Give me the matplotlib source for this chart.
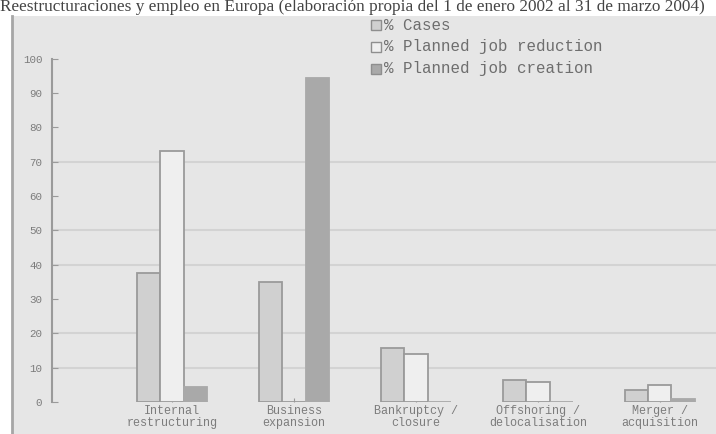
import matplotlib
matplotlib.use("Agg")
import matplotlib.pyplot as plt
from matplotlib.patches import Rectangle
import numpy as np

title = "Reestructuraciones y empleo en Europa (elaboración propia del 1 de enero 2002 al 31 de marzo 2004)"
categories = ["Internal\nrestructuring", "Business\nexpansion", "Bankruptcy /\nclosure",
              "Offshoring /\ndelocalisation", "Merger /\nacquisition"]
series_names = ["% Cases", "% Planned job reduction", "% Planned job creation"]
cases = [37.6, 35.0, 15.6, 6.4, 3.4]
job_reduction = [73.2, 0.0, 14.0, 5.7, 4.9]
job_creation = [4.3, 94.3, 0.0, 0.0, 0.9]
yticks = [0, 10, 20, 30, 40, 50, 60, 70, 80, 90, 100]
grid_levels = [10, 20, 40, 50, 70]

fills = ["#d0d0d0", "#efefef", "#a9a9a9"]
edges = ["#9a9a9a", "#9a9a9a", "#a9a9a9"]
text_col = "#7c7c7c"
mono = ["Liberation Mono", "DejaVu Sans Mono"]

W, H = 716, 434
fig = plt.figure(figsize=(W / 100, H / 100), dpi=100)
fig.patch.set_facecolor("white")

# gray panel with left border
fig.patches.append(Rectangle((12 / W, 0), 1 - 12 / W, 1 - 16 / H, transform=fig.transFigure,
                             facecolor="#e6e6e6", edgecolor="none", zorder=-10))
fig.add_artist(plt.Line2D([12 / W, 12 / W], [0, 1 - 16 / H], transform=fig.transFigure,
                          color="#a6a6a6", lw=2, zorder=1))

fig.text(0.0, 1 - 7 / H, title, family=["Liberation Serif", "DejaVu Serif"], fontsize=12.4,
         color="#444444", ha="left", va="center")

ax = fig.add_axes([52 / W, (H - 402) / H, (W - 52) / W, (402 - 58.7) / H])
ax.set_facecolor("none")
ax.set_zorder(2)
x = np.arange(len(categories))
w = 0.19
for vals, off, fc, ec in zip([cases, job_reduction, job_creation], [-w, 0, w], fills, edges):
    ax.bar(x + off, vals, width=w, color=fc, edgecolor=ec, linewidth=1.3, zorder=3)

for g in grid_levels:
    ax.axhline(g, color="#d3d3d3", lw=1.5, zorder=1)

ax.set_xlim(-0.984, 4.46)
ax.set_ylim(0, 100)
for s in ["top", "right", "bottom"]:
    ax.spines[s].set_visible(False)
ax.spines["left"].set_color("#9a9a9a")
ax.spines["left"].set_linewidth(1.5)
ax.set_yticks(yticks)
ax.set_yticklabels([str(v) for v in yticks])
ax.set_xticks(x)
ax.set_xticklabels(categories, linespacing=1.05)
ax.tick_params(axis="y", direction="in", length=4, color="#9a9a9a", pad=7,
               labelsize=7.8, labelcolor=text_col)
ax.tick_params(axis="x", direction="in", length=3, color="#9a9a9a", pad=2,
               labelsize=8.5, labelcolor=text_col)
for lab in ax.get_xticklabels() + ax.get_yticklabels():
    lab.set_family(mono)

# legend drawn in figure pixels
for i, (name, fc, ec) in enumerate(zip(series_names, fills, edges)):
    cy = 25 + 22 * i
    fig.patches.append(Rectangle((371 / W, 1 - (cy + 5) / H), 10 / W, 10 / H,
                                 transform=fig.transFigure, facecolor=fc,
                                 edgecolor="#8e8e8e", lw=1, zorder=5))
    fig.text(384 / W, 1 - cy / H, name, family=mono, fontsize=11.4, color="#6e6e6e",
             ha="left", va="center")

fig.savefig("out.png", dpi=100)
